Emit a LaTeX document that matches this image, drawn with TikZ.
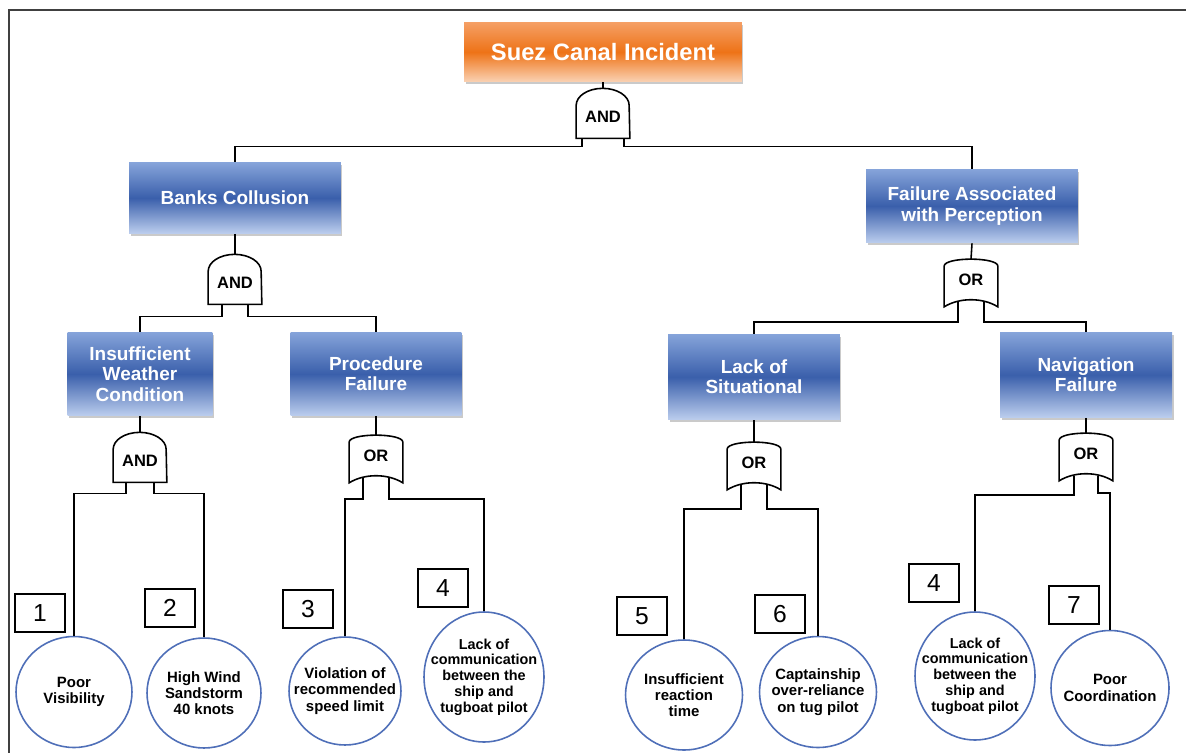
\documentclass[tikz,border=0pt]{standalone}
\usepackage{fontspec}
\setmainfont{Liberation Sans}
\usetikzlibrary{shapes.geometric,shadows,backgrounds}

\definecolor{boxtop}{HTML}{86A4DA}
\definecolor{boxmid}{HTML}{3A5FAB}
\definecolor{boxbot}{HTML}{BCCEEE}
\definecolor{orgtop}{HTML}{F5A066}
\definecolor{orgmid}{HTML}{EE7317}
\definecolor{orgbot}{HTML}{FAD2B4}
\definecolor{circblue}{HTML}{4F6FB8}

\tikzset{
  link/.style={line width=0.9pt},
  gateline/.style={line width=0.9pt, fill=white},
  event/.style={rectangle, shading=axis, top color=boxtop, bottom color=boxbot,
    middle color=boxmid, text=white, align=center, inner sep=0pt,
    font=\bfseries\fontsize{10.8}{11.6}\selectfont,
    drop shadow={shadow xshift=0.03cm, shadow yshift=-0.05cm, opacity=0.35, fill=black!60}},
  topevent/.style={event, top color=orgtop, bottom color=orgbot, middle color=orgmid,
    font=\bfseries\fontsize{13.5}{15}\selectfont},
  gatebox/.style={minimum width=1.06cm, inner sep=0pt,
    font=\bfseries\fontsize{9.4}{10}\selectfont},
  andgate/.style={gatebox, minimum height=1cm, text height=11.3pt, text depth=0pt},
  orgate/.style={gatebox, minimum height=0.94cm, text height=6.7pt, text depth=3.4pt},
  leaf/.style={ellipse, draw=circblue, line width=0.9pt, fill=white, align=center,
    inner sep=-0.5cm, font=\bfseries\fontsize{8.5}{9.3}\selectfont},
  numbox/.style={draw, line width=0.9pt, fill=white, minimum width=1cm,
    minimum height=0.76cm, inner sep=0pt, font=\fontsize{14}{16}\selectfont}
}

\begin{document}
\begin{tikzpicture}[x=0.02cm, y=-0.02cm]
  \useasboundingbox (0,0) rectangle (1186,753);
  \draw[line width=1.2pt, black!75] (9,753) -- (9,10) -- (1186,10);

  % events
  \node[topevent, minimum width=5.56cm, minimum height=1.2cm] (top) at (603,52) {Suez Canal Incident};
  \node[event, minimum width=4.24cm, minimum height=1.42cm] (banks) at (235,198) {Banks Collusion};
  \node[event, minimum width=4.24cm, minimum height=1.48cm] (fap) at (972,206) {Failure Associated\\with Perception};
  \node[event, minimum width=2.9cm, minimum height=1.68cm] (iwc) at (140,374) {Insufficient\\Weather\\Condition};
  \node[event, minimum width=3.42cm, minimum height=1.68cm] (proc) at (376,374) {Procedure\\Failure};
  \node[event, minimum width=3.44cm, minimum height=1.72cm] (lsa) at (754,377) {Lack of\\Situational};
  \node[event, minimum width=3.44cm, minimum height=1.7cm] (nav) at (1086,375) {Navigation\\Failure};

  % gates
  \node[andgate] (g0) at (603,113) {AND};
  \node[andgate] (g1) at (235,279) {AND};
  \node[andgate] (g2) at (140,457) {AND};
  \node[orgate] (g3) at (376,459) {OR};
  \node[orgate] (g4) at (971,283) {OR};
  \node[orgate] (g5) at (754,466) {OR};
  \node[orgate] (g6) at (1086,457) {OR};

  % basic events
  \node[leaf, minimum width=2.32cm, minimum height=2.22cm] (c1) at (74,692) {Poor\\Visibility};
  \node[leaf, minimum width=2.28cm, minimum height=2.2cm] (c2) at (204,693) {High Wind\\Sandstorm\\40 knots};
  \node[leaf, minimum width=2.24cm, minimum height=2.16cm] (c3) at (345,691) {Violation of\\recommended\\speed limit};
  \node[leaf, minimum width=2.4cm, minimum height=2.6cm, font=\bfseries\fontsize{8.2}{9}\selectfont] (c4) at (484,677) {Lack of\\communication\\between the\\ship and\\tugboat pilot};
  \node[leaf, minimum width=2.34cm, minimum height=2.2cm] (c5) at (684,695) {Insufficient\\reaction\\time};
  \node[leaf, minimum width=2.34cm, minimum height=2.22cm] (c6) at (818,692) {Captainship\\over-reliance\\on tug pilot};
  \node[leaf, minimum width=2.4cm, minimum height=2.56cm, font=\bfseries\fontsize{8.2}{9}\selectfont] (c7) at (975,676) {Lack of\\communication\\between the\\ship and\\tugboat pilot};
  \node[leaf, minimum width=2.36cm, minimum height=2.3cm] (c8) at (1110,688) {Poor\\Coordination};

  \node[numbox] (n1) at (40,613) {1};
  \node[numbox] (n2) at (170,608) {2};
  \node[numbox] (n3) at (308,609) {3};
  \node[numbox] (n4) at (443,588) {4};
  \node[numbox] (n5) at (642,616) {5};
  \node[numbox] (n6) at (780,614) {6};
  \node[numbox] (n7) at (934,583) {4};
  \node[numbox] (n8) at (1074,605) {7};

  % connectors
  \draw[link] (top.south) -- (g0.north);
  \draw[link] ([xshift=-0.42cm]g0.south) -- ++(0,8) -| (banks.north);
  \draw[link] ([xshift=0.42cm]g0.south) -- ++(0,8) -| (fap.north);
  \draw[link] (banks.south) -- (g1.north);
  \draw[link] ([xshift=-0.26cm]g1.south) -- ++(0,12) -| (iwc.north);
  \draw[link] ([xshift=0.26cm]g1.south) -- ++(0,12) -| (proc.north);
  \draw[link] (iwc.south) -- (g2.north);
  \draw[link] ([xshift=-0.28cm]g2.south) -- ++(0,11) -| (c1.north);
  \draw[link] ([xshift=0.28cm]g2.south) -- ++(0,11) -| (c2.north);
  \draw[link] (proc.south) -- (g3.north);
  \draw[link] ([xshift=-0.26cm,yshift=0.1cm]g3.south) -- ++(0,21) -| (c3.north);
  \draw[link] ([xshift=0.26cm,yshift=0.1cm]g3.south) -- ++(0,21) -| (c4.north);
  \draw[link] (fap.south) -- (g4.north);
  \draw[link] ([xshift=-0.26cm,yshift=0.1cm]g4.south) -- ++(0,20) -| (lsa.north);
  \draw[link] ([xshift=0.26cm,yshift=0.1cm]g4.south) -- ++(0,20) -| (nav.north);
  \draw[link] (lsa.south) -- (g5.north);
  \draw[link] ([xshift=-0.26cm,yshift=0.1cm]g5.south) -- ++(0,24) -| (c5.north);
  \draw[link] ([xshift=0.26cm,yshift=0.1cm]g5.south) -- ++(0,24) -| (c6.north);
  \draw[link] (nav.south) -- (g6.north);
  \draw[link] ([xshift=-0.24cm,yshift=0.1cm]g6.south) -- ++(0,19) -| (c7.north);
  \draw[link] ([xshift=0.24cm,yshift=0.1cm]g6.south) -- ++(0,17) -| (c8.north);

  % gate outlines
  \begin{pgfonlayer}{background}
  \foreach \g in {g0,g1,g2}
    \draw[gateline] (\g.south west) -- ++(0,-33)
      arc[start angle=180, end angle=0, x radius=0.53cm, y radius=0.34cm]
      -- (\g.south east) -- cycle;
  \foreach \g in {g3,g4,g5,g6}
    \draw[gateline] (\g.south west) -- ([yshift=-0.14cm]\g.north west)
      .. controls ([yshift=0.047cm]\g.north west) and ([yshift=0.047cm]\g.north east) .. ([yshift=-0.14cm]\g.north east)
      -- (\g.south east)
      .. controls ([xshift=-0.3cm,yshift=0.19cm]\g.south east) and ([xshift=0.3cm,yshift=0.19cm]\g.south west) .. (\g.south west) -- cycle;
  \end{pgfonlayer}
\end{tikzpicture}
\end{document}
